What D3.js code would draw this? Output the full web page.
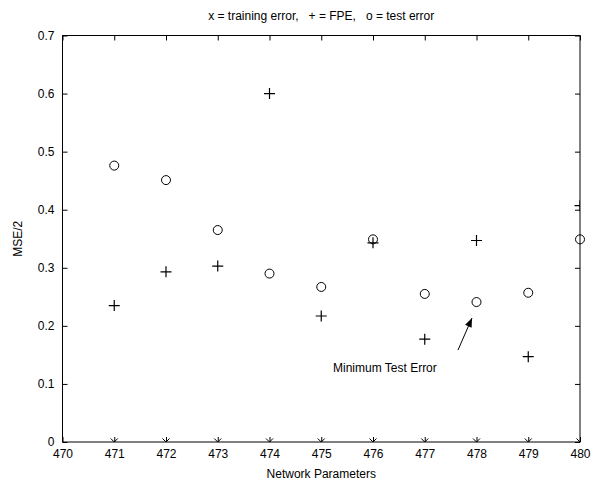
<!DOCTYPE html>
<html><head><meta charset="utf-8">
<script src="https://cdn.jsdelivr.net/npm/d3@7"></script>
<style>body{margin:0;background:#fff}text{font-family:Arial,"Liberation Sans",sans-serif;fill:#000}</style>
</head><body><svg id="c" width="592" height="485"></svg>
<script>
const params = [471,472,473,474,475,476,477,478,479,480];
const trainingError = [0,0,0,0,0,0,0,0,0,0];
const fpe = [0.235,0.293,0.303,0.600,0.217,0.343,0.177,0.347,0.147,0.407];
const testError = [0.476,0.451,0.365,0.290,0.267,0.349,0.255,0.241,0.257,0.349];
const xTicks = [470,471,472,473,474,475,476,477,478,479,480];
const yTicks = [0,0.1,0.2,0.3,0.4,0.5,0.6,0.7];

const svg = d3.select("#c");
const L=62.5,R=580,T=35.5,B=442;
const x = d3.scaleLinear().domain([470,480]).range([L,R]);
const y = d3.scaleLinear().domain([0,0.7]).range([B,T]);

svg.append("defs").append("clipPath").attr("id","clip").append("rect")
  .attr("x",L).attr("y",T).attr("width",R-L).attr("height",B-T);

// axes with inward ticks
const fmtY = d=> d===0?"0":d3.format(".1f")(d);
svg.append("g").attr("transform",`translate(0,${B})`)
  .call(d3.axisBottom(x).tickValues(xTicks).tickSize(-5).tickPadding(7).tickFormat(d3.format("d")))
  .call(g=>{g.select(".domain").remove();g.selectAll("text").attr("font-size",12).attr("dy","0.71em");});
svg.append("g").attr("transform",`translate(0,${T})`)
  .call(d3.axisTop(x).tickValues(xTicks).tickSize(-5).tickFormat(""))
  .call(g=>g.select(".domain").remove());
svg.append("g").attr("transform",`translate(${L},0)`)
  .call(d3.axisLeft(y).tickValues(yTicks).tickSize(-5).tickPadding(8).tickFormat(fmtY))
  .call(g=>{g.select(".domain").remove();g.selectAll("text").attr("font-size",12);});
svg.append("g").attr("transform",`translate(${R},0)`)
  .call(d3.axisRight(y).tickValues(yTicks).tickSize(-5).tickFormat(""))
  .call(g=>g.select(".domain").remove());
svg.selectAll(".tick line").attr("stroke","#000");
svg.append("rect").attr("x",L).attr("y",T).attr("width",R-L).attr("height",B-T)
  .attr("fill","none").attr("stroke","#000").attr("stroke-width",1);

const plot = svg.append("g").attr("clip-path","url(#clip)");
// training error: x markers
plot.selectAll(".tr").data(params).enter().append("path")
  .attr("d",(d,i)=>{const cx=x(d),cy=y(trainingError[i]),s=3.5;return `M${cx-s},${cy-s}L${cx+s},${cy+s}M${cx-s},${cy+s}L${cx+s},${cy-s}`;})
  .attr("stroke","#000").attr("stroke-width",1);
// FPE plus
plot.selectAll(".fp").data(params).enter().append("path")
  .attr("d",(d,i)=>{const cx=x(d),cy=y(fpe[i]),s=5.5;return `M${cx-s},${cy}L${cx+s},${cy}M${cx},${cy-s}L${cx},${cy+s}`;})
  .attr("stroke","#000").attr("stroke-width",1.2);
// test error circles
svg.selectAll(".te").data(params).enter().append("circle")
  .attr("cx",d=>x(d)).attr("cy",(d,i)=>y(testError[i])).attr("r",4.5)
  .attr("fill","none").attr("stroke","#000").attr("stroke-width",1);

// labels
svg.append("text").attr("x",(L+R)/2).attr("y",20).attr("text-anchor","middle").attr("font-size",12)
  .style("white-space","pre").text("x = training error,   + = FPE,   o = test error");
svg.append("text").attr("x",(L+R)/2).attr("y",478).attr("text-anchor","middle").attr("font-size",12)
  .text("Network Parameters");
svg.append("text").attr("transform",`translate(22,${(T+B)/2}) rotate(-90)`).attr("text-anchor","middle").attr("font-size",12)
  .text("MSE/2");

// annotation
svg.append("text").attr("x",333).attr("y",372).attr("font-size",12).text("Minimum Test Error");
const ax0=458, ay0=350, ax1=472, ay1=318;
svg.append("line").attr("x1",ax0).attr("y1",ay0).attr("x2",ax1).attr("y2",ay1).attr("stroke","#000");
const ang=Math.atan2(ay1-ay0,ax1-ax0), hl=9, hw=3.5;
const bx=ax1-hl*Math.cos(ang), by=ay1-hl*Math.sin(ang);
svg.append("path").attr("d",`M${ax1},${ay1}L${bx+hw*Math.sin(ang)},${by-hw*Math.cos(ang)}L${bx-hw*Math.sin(ang)},${by+hw*Math.cos(ang)}Z`).attr("fill","#000");
</script></body></html>
